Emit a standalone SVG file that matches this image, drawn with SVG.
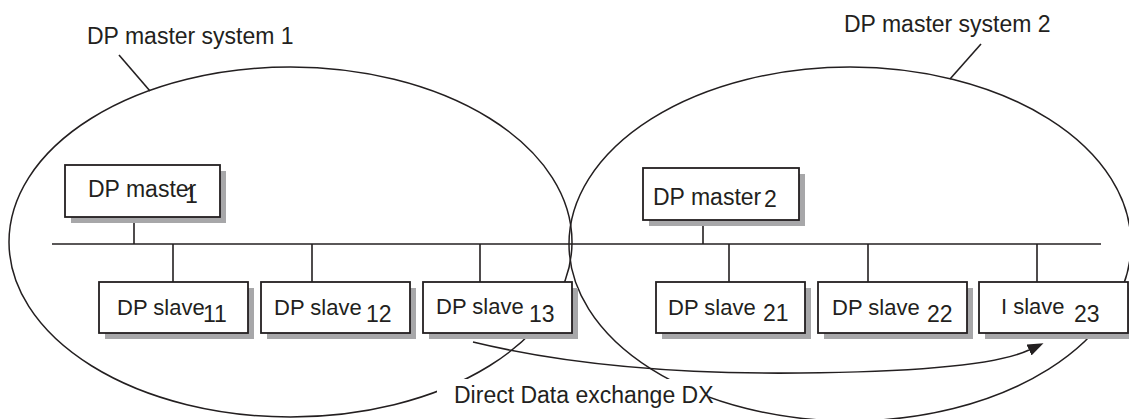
<svg xmlns="http://www.w3.org/2000/svg" width="1129" height="419" viewBox="0 0 1129 419">
<style>
.ln{fill:none;stroke:#231f20;stroke-width:1.6}
.el{fill:none;stroke:#231f20;stroke-width:1.5}
.box{fill:#ffffff;stroke:#231f20;stroke-width:1.8}
.sh{fill:#a7a7a9;stroke:none}
.t{font-family:"Liberation Sans",Arial,Helvetica,sans-serif;font-size:23px;fill:#231f20}
.bt{font-family:"Liberation Sans",Arial,Helvetica,sans-serif;font-size:22px;fill:#231f20}
.sub{font-family:"Liberation Sans",Arial,Helvetica,sans-serif;font-size:23px;fill:#231f20}
</style>
<defs>
<marker id="arr" viewBox="0 0 16 12" refX="0" refY="6" markerWidth="16" markerHeight="12" markerUnits="userSpaceOnUse" orient="auto">
<path d="M0,0 L16,6 L0,12 z" fill="#231f20"/>
</marker>
</defs>
<rect width="1129" height="419" fill="#ffffff"/>
<g id="systems">
<ellipse id="system1" class="el" cx="290.5" cy="242" rx="281.5" ry="175"/>
<ellipse id="system2" class="el" cx="850" cy="244" rx="281" ry="177"/>
<text class="t" x="87" y="44">DP master system 1</text>
<text class="t" x="844" y="32">DP master system 2</text>
</g>
<g id="connectors">
<line class="ln" x1="119" y1="55" x2="150" y2="91"/>
<line class="ln" x1="981" y1="44" x2="950" y2="79"/>
<line class="ln" x1="52" y1="244" x2="1101" y2="244"/>
<line class="ln" x1="134" y1="217" x2="134" y2="244"/>
<line class="ln" x1="703" y1="220" x2="703" y2="244"/>
<line class="ln" x1="173" y1="244" x2="173" y2="282"/>
<line class="ln" x1="312" y1="244" x2="312" y2="282"/>
<line class="ln" x1="480" y1="244" x2="480" y2="282"/>
<line class="ln" x1="729" y1="244" x2="729" y2="282"/>
<line class="ln" x1="868" y1="244" x2="868" y2="282"/>
<line class="ln" x1="1037" y1="244" x2="1037" y2="282"/>
</g>
<g id="master1">
<rect class="sh" x="71" y="171" width="155" height="52"/>
<rect class="box" x="65" y="165" width="155" height="52"/>
<text class="t" x="88" y="197">DP master</text>
<text class="sub" x="185" y="203">1</text>
</g>
<g id="master2">
<rect class="sh" x="649" y="174" width="156" height="52"/>
<rect class="box" x="643" y="168" width="156" height="52"/>
<text class="t" x="653" y="205">DP master</text>
<text class="sub" x="764" y="207">2</text>
</g>
<g id="slave11">
<rect class="sh" x="105" y="288" width="149" height="51"/>
<rect class="box" x="99" y="282" width="149" height="51"/>
<text class="bt" x="117" y="315">DP slave</text>
<text class="sub" x="203" y="322">11</text>
</g>
<g id="slave12">
<rect class="sh" x="267" y="288" width="149" height="51"/>
<rect class="box" x="261" y="282" width="149" height="51"/>
<text class="bt" x="274" y="315">DP slave</text>
<text class="sub" x="366" y="322">12</text>
</g>
<g id="slave13">
<rect class="sh" x="429" y="288" width="149" height="51"/>
<rect class="box" x="423" y="282" width="149" height="51"/>
<text class="bt" x="436" y="314">DP slave</text>
<text class="sub" x="529" y="322">13</text>
</g>
<g id="slave21">
<rect class="sh" x="662" y="288" width="149" height="51"/>
<rect class="box" x="656" y="282" width="149" height="51"/>
<text class="bt" x="668" y="315">DP slave</text>
<text class="sub" x="763" y="321">21</text>
</g>
<g id="slave22">
<rect class="sh" x="824" y="288" width="149" height="51"/>
<rect class="box" x="818" y="282" width="149" height="51"/>
<text class="bt" x="832" y="315">DP slave</text>
<text class="sub" x="927" y="322">22</text>
</g>
<g id="islave23">
<rect class="sh" x="985" y="288" width="149" height="51"/>
<rect class="box" x="979" y="282" width="149" height="51"/>
<text class="bt" x="1001" y="314">I slave</text>
<text class="sub" x="1074" y="322">23</text>
</g>
<g id="dx">
<path class="ln" d="M473,342 C580,368 700,374 800,373 C910,372 995,366 1029,350" marker-end="url(#arr)"/>
<rect x="437" y="379" width="272" height="40" fill="#ffffff"/>
<text class="t" x="454" y="403">Direct Data exchange DX</text>
</g>
</svg>
